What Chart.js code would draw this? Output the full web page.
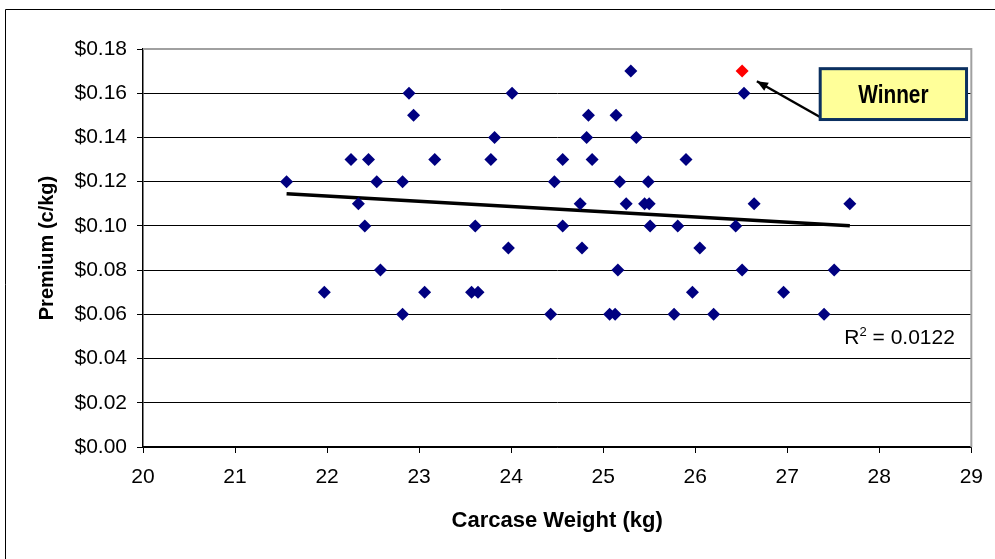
<!DOCTYPE html>
<html>
<head>
<meta charset="utf-8">
<script src="https://cdn.jsdelivr.net/npm/chart.js@4.4.1/dist/chart.umd.min.js"></script>
<style>
  html, body { margin: 0; padding: 0; background: #fff; }
  #wrap { width: 995px; height: 559px; position: relative; }
</style>
</head>
<body>
<div id="wrap"><canvas id="premiumChart" width="995" height="559"></canvas></div>
<script>
// carcase weight (kg) and premium ($/kg) for each entry
const weights = [21.56, 21.97, 22.26, 22.34, 22.41, 22.45, 22.54, 22.58, 22.82, 22.82,
                 22.89, 22.94, 23.06, 23.17, 23.57, 23.61, 23.64, 23.78, 23.82, 23.97,
                 24.01, 24.43, 24.47, 24.56, 24.56, 24.75, 24.77, 24.82, 24.84, 24.88,
                 25.07, 25.13, 25.14, 25.16, 25.18, 25.25, 25.30, 25.36, 25.45, 25.49,
                 25.50, 25.51, 25.77, 25.81, 25.90, 25.97, 26.05, 26.20, 26.44, 26.51,
                 26.53, 26.64, 26.96, 27.40, 27.51, 27.68];
const premiums = [0.12, 0.07, 0.13, 0.11, 0.10, 0.13, 0.12, 0.08, 0.12, 0.06,
                  0.16, 0.15, 0.07, 0.13, 0.07, 0.10, 0.07, 0.13, 0.14, 0.09,
                  0.16, 0.06, 0.12, 0.13, 0.10, 0.11, 0.09, 0.14, 0.15, 0.13,
                  0.06, 0.06, 0.15, 0.08, 0.12, 0.11, 0.17, 0.14, 0.11, 0.12,
                  0.11, 0.10, 0.06, 0.10, 0.13, 0.07, 0.09, 0.06, 0.10, 0.08,
                  0.16, 0.11, 0.07, 0.06, 0.08, 0.11];

const winnerWeight = [26.51];
const winnerPremium = [0.17];

// linear trend line end points
const trendWeights = [21.56, 27.68];
const trendPremiums = [0.1145, 0.1001];
const rSquared = '0.0122';

const xTicks = [20, 21, 22, 23, 24, 25, 26, 27, 28, 29];
const yTicks = [0, 0.02, 0.04, 0.06, 0.08, 0.10, 0.12, 0.14, 0.16, 0.18];

const toPoints = (xs, ys) => xs.map((x, i) => ({ x: x, y: ys[i] }));

const FONT = "'Liberation Sans', Arial, sans-serif";

// frame, R² label and the "Winner" callout
const extras = {
  id: 'extras',
  beforeDraw(chart) {
    const ctx = chart.ctx;
    ctx.save();
    ctx.strokeStyle = '#000';
    ctx.lineWidth = 1;
    ctx.beginPath();
    ctx.moveTo(5.5, 559);
    ctx.lineTo(5.5, 9.5);
    ctx.lineTo(995, 9.5);
    ctx.stroke();
    ctx.restore();
  },
  afterDatasetsDraw(chart) {
    const ctx = chart.ctx;
    const a = chart.chartArea;
    const xs = chart.scales.x, ys = chart.scales.y;
    ctx.save();
    // plot area top/right border
    ctx.strokeStyle = '#a0a0a0';
    ctx.lineWidth = 2;
    ctx.beginPath();
    ctx.moveTo(a.left, a.top);
    ctx.lineTo(a.right, a.top);
    ctx.lineTo(a.right, a.bottom);
    ctx.stroke();

    // R squared
    ctx.fillStyle = '#000';
    ctx.font = '21px ' + FONT;
    ctx.textBaseline = 'alphabetic';
    ctx.textAlign = 'left';
    let rx = xs.getPixelForValue(27.62), ry = ys.getPixelForValue(0.0468);
    ctx.fillText('R', rx, ry);
    rx += ctx.measureText('R').width;
    ctx.font = '13px ' + FONT;
    ctx.fillText('2', rx, ry - 8);
    rx += ctx.measureText('2').width;
    ctx.font = '21px ' + FONT;
    ctx.fillText(' = ' + rSquared, rx, ry);

    // callout arrow
    const tx = xs.getPixelForValue(26.67), ty = ys.getPixelForValue(0.1654);
    const sx = xs.getPixelForValue(27.375), sy = ys.getPixelForValue(0.1488);
    ctx.strokeStyle = '#000';
    ctx.fillStyle = '#000';
    ctx.lineWidth = 2.5;
    ctx.beginPath();
    ctx.moveTo(sx, sy);
    ctx.lineTo(tx, ty);
    ctx.stroke();
    const ang = Math.atan2(ty - sy, tx - sx);
    ctx.beginPath();
    ctx.moveTo(tx, ty);
    ctx.lineTo(tx - 12 * Math.cos(ang - 0.4), ty - 12 * Math.sin(ang - 0.4));
    ctx.lineTo(tx - 12 * Math.cos(ang + 0.4), ty - 12 * Math.sin(ang + 0.4));
    ctx.closePath();
    ctx.fill();

    // callout box
    const bx1 = xs.getPixelForValue(27.358), bx2 = xs.getPixelForValue(28.948);
    const by1 = ys.getPixelForValue(0.1711), by2 = ys.getPixelForValue(0.1481);
    ctx.fillStyle = '#ffff99';
    ctx.fillRect(bx1, by1, bx2 - bx1, by2 - by1);
    ctx.strokeStyle = '#0b3060';
    ctx.lineWidth = 3;
    ctx.strokeRect(bx1, by1, bx2 - bx1, by2 - by1);
    ctx.fillStyle = '#000';
    ctx.textAlign = 'center';
    ctx.textBaseline = 'middle';
    ctx.font = 'bold 26px ' + FONT;
    ctx.translate((bx1 + bx2) / 2, (by1 + by2) / 2 + 2);
    ctx.scale(0.8, 1);
    ctx.fillText('Winner', 0, 0);
    ctx.restore();
  }
};

const ctx = document.getElementById('premiumChart').getContext('2d');
new Chart(ctx, {
  type: 'scatter',
  data: {
    datasets: [{
      label: 'Premium',
      data: toPoints(weights, premiums),
      pointStyle: 'rectRot',
      pointRadius: 6.5,
      backgroundColor: '#000080',
      borderColor: '#000080',
      borderWidth: 0,
      order: 2
    }, {
      label: 'Winner',
      data: toPoints(winnerWeight, winnerPremium),
      pointStyle: 'rectRot',
      pointRadius: 6.5,
      backgroundColor: '#ff0000',
      borderColor: '#ff0000',
      borderWidth: 0,
      order: 1
    }, {
      label: 'Linear trend',
      type: 'line',
      data: toPoints(trendWeights, trendPremiums),
      borderColor: '#000',
      borderWidth: 3.5,
      pointRadius: 0,
      fill: false,
      order: 3
    }]
  },
  options: {
    responsive: false,
    animation: false,
    layout: { padding: { left: 0, top: 49, right: 21, bottom: 0 } },
    plugins: {
      legend: { display: false },
      tooltip: { enabled: false }
    },
    scales: {
      x: {
        type: 'linear',
        min: 20,
        max: 29,
        afterBuildTicks: s => { s.ticks = xTicks.map(v => ({ value: v })); },
        afterFit: s => { s.height = 112; },
        grid: {
          drawOnChartArea: false,
          drawTicks: true,
          tickLength: 6,
          color: '#000',
          tickColor: '#000'
        },
        border: { display: true, color: '#000', width: 1.5 },
        ticks: {
          color: '#000',
          padding: 12,
          font: { family: FONT, size: 21 }
        },
        title: {
          display: true,
          text: 'Carcase Weight (kg)',
          color: '#000',
          font: { family: FONT, size: 22, weight: 'bold' },
          padding: { top: 0, bottom: 25 }
        }
      },
      y: {
        type: 'linear',
        min: 0,
        max: 0.18,
        afterBuildTicks: s => { s.ticks = yTicks.map(v => ({ value: v })); },
        afterFit: s => { s.width = 143; },
        grid: {
          drawTicks: true,
          tickLength: 6,
          color: c => (c.index === yTicks.length - 1 ? 'rgba(0,0,0,0)' : '#000'),
          tickColor: '#000',
          lineWidth: 1
        },
        border: { display: true, color: '#000', width: 1.5 },
        ticks: {
          color: '#000',
          padding: 10,
          font: { family: FONT, size: 21 },
          callback: v => '$' + Number(v).toFixed(2)
        },
        title: {
          display: true,
          text: 'Premium (c/kg)',
          color: '#000',
          font: { family: FONT, size: 20, weight: 'bold' },
          padding: { top: 35, bottom: 0 }
        }
      }
    }
  },
  plugins: [extras]
});
</script>
</body>
</html>
